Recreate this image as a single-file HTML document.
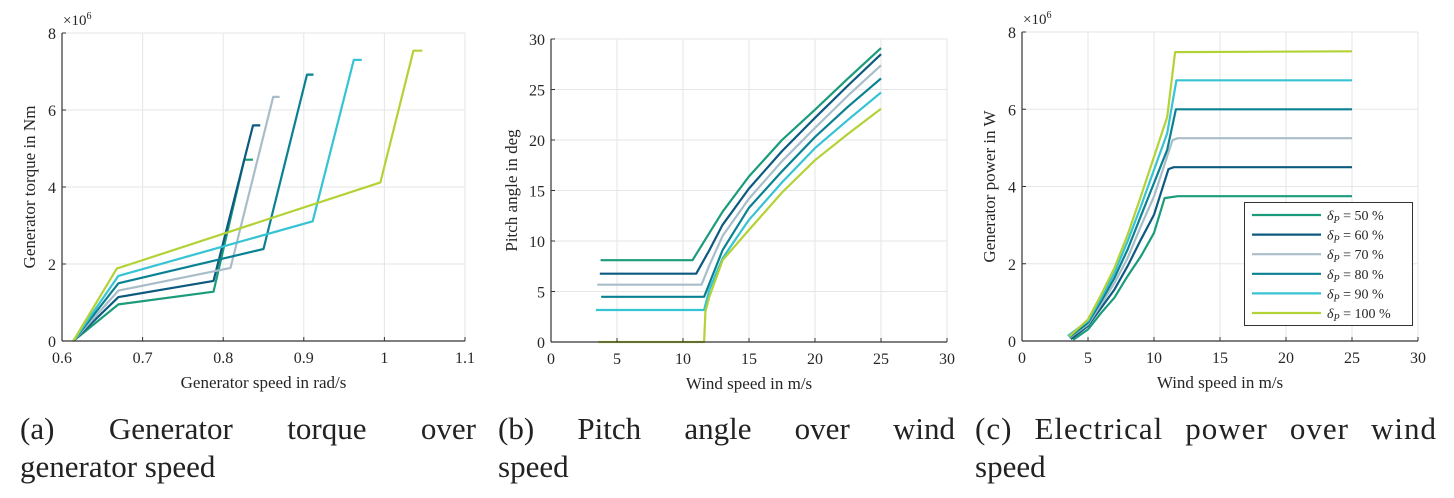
<!DOCTYPE html>
<html><head><meta charset="utf-8">
<style>
body{margin:0;background:#fff;width:1454px;height:498px;overflow:hidden;font-family:"Liberation Serif",serif;}
.cap{position:absolute;font-size:31px;color:#222;line-height:38px;}
.just{text-align:justify;text-align-last:justify;}
</style></head><body>
<svg id="fig" width="1454" height="498" style="position:absolute;left:0;top:0" font-family="Liberation Serif, serif"></svg>
<div class="cap" style="left:20px;top:410px;width:456px"><div class="just">(a) Generator torque over</div><div>generator speed</div></div>
<div class="cap" style="left:498px;top:410px;width:457px"><div class="just">(b) Pitch angle over wind</div><div>speed</div></div>
<div class="cap" style="left:975px;top:410px;width:462px"><div class="just" style="letter-spacing:1px">(c) Electrical power over wind</div><div>speed</div></div>
<script>
const seriesNames=["50","60","70","80","90","100"];
const seriesColors=["#1a9c7a","#0d5a80","#a9bdc9","#0a8192","#36c3d3","#b3d236"];
// (a) torque vs speed
const torqueSpeed=[
[0.614,0.670,0.788,0.826,0.837],
[0.614,0.670,0.788,0.837,0.846],
[0.614,0.670,0.809,0.862,0.870],
[0.614,0.670,0.850,0.904,0.912],
[0.614,0.670,0.911,0.962,0.972],
[0.614,0.668,0.995,1.036,1.047]];
const torqueVal=[
[0,0.95,1.28,4.71,4.71],
[0,1.14,1.56,5.60,5.60],
[0,1.31,1.90,6.34,6.34],
[0,1.50,2.39,6.92,6.92],
[0,1.69,3.11,7.30,7.30],
[0,1.88,4.12,7.54,7.54]];
// (b) pitch vs wind
const pitchWind=[
[3.76,10.72,12,13,15,17.5,20,22.5,25],
[3.7,11.0,12,13,15,17.5,20,22.5,25],
[3.5,11.4,12,13,15,17.5,20,22.5,25],
[3.8,11.6,12,13,15,17.5,20,22.5,25],
[3.4,11.6,12,13,15,17.5,20,22.5,25],
[3.6,11.6,11.7,12,13,15,17.5,20,22.5,25]];
const pitchVal=[
[8.1,8.1,10.8,12.9,16.4,20.0,23.0,26.1,29.1],
[6.76,6.76,9.1,11.6,15.2,18.9,22.2,25.4,28.5],
[5.67,5.67,7.6,10.5,14.2,17.9,21.2,24.4,27.4],
[4.48,4.48,5.8,9.1,13.3,16.9,20.3,23.3,26.1],
[3.17,3.17,5.2,8.3,12.1,15.8,19.2,22.0,24.7],
[0,0,3.0,4.5,8.1,11.1,14.8,18.0,20.6,23.1]];
// (c) power vs wind
const powerWind=[
[3.87,5,6,7,8,9,10,10.8,11.8,25],
[3.7,5,6,7,8,9,10,11.1,11.5,25],
[3.6,5,6,7,8,9,10,11.4,11.8,25],
[3.6,5,6,7,8,9,10,11,11.66,25],
[3.47,5,6,7,8,9,10,11,11.7,25],
[3.6,5,6,7,8,9,10,11,11.6,25]];
const powerVal=[
[0.03,0.3,0.73,1.12,1.68,2.19,2.8,3.7,3.75,3.75],
[0.05,0.39,0.86,1.33,1.94,2.62,3.27,4.45,4.5,4.5],
[0.08,0.43,0.95,1.5,2.15,2.97,3.74,5.2,5.25,5.25],
[0.1,0.47,1.03,1.63,2.37,3.23,4.09,4.95,6.0,6.0],
[0.13,0.52,1.12,1.76,2.58,3.48,4.43,5.38,6.75,6.75],
[0.12,0.56,1.2,1.89,2.75,3.74,4.77,5.8,7.48,7.5]];
const ticksA_x=["0.6","0.7","0.8","0.9","1","1.1"];
const ticksA_y=["0","2","4","6","8"];
const ticksB_x=["0","5","10","15","20","25","30"];
const ticksB_y=["0","5","10","15","20","25","30"];
const ticksC_x=["0","5","10","15","20","25","30"];
const ticksC_y=["0","2","4","6","8"];

const NS="http://www.w3.org/2000/svg";
const svg=document.getElementById('fig');
function mk(tag,attrs,parent){const e=document.createElementNS(NS,tag);for(const k in attrs)e.setAttribute(k,attrs[k]);(parent||svg).appendChild(e);return e;}

function plot(id,box,xr,yr,xt,yt,xs,ys,xlabel,ylabel,expo){
  const g=mk('g',{});
  
  
  const sx=v=>box.x0+(v-xr[0])/(xr[1]-xr[0])*(box.x1-box.x0);
  const sy=v=>box.y0-(v-yr[0])/(yr[1]-yr[0])*(box.y0-box.y1);
  const grid=mk('g',{},g);
  
  
  xt.forEach(t=>{const X=sx(+t);mk('line',{x1:X,x2:X,y1:box.y0,y2:box.y1,stroke:'#e6e6e6','stroke-width':1},grid);});
  yt.forEach(t=>{const Y=sy(+t);mk('line',{x1:box.x0,x2:box.x1,y1:Y,y2:Y,stroke:'#e6e6e6','stroke-width':1},grid);});
  xs.forEach((xa,i)=>{
    const pts=xa.map((v,j)=>sx(v).toFixed(1)+','+sy(ys[i][j]).toFixed(1)).join(' ');
    const l=mk('polyline',{points:pts,fill:'none',stroke:seriesColors[i],'stroke-width':2.2,'stroke-linejoin':'round'},g);
    
    
  });
  const ax=mk('g',{},g);
  
  
  mk('line',{x1:box.x0,x2:box.x1,y1:box.y0,y2:box.y0,stroke:'#333','stroke-width':1.2},ax);
  mk('line',{x1:box.x0,x2:box.x0,y1:box.y0,y2:box.y1,stroke:'#333','stroke-width':1.2},ax);
  xt.forEach(t=>{const X=sx(+t);mk('line',{x1:X,x2:X,y1:box.y0,y2:box.y0-4,stroke:'#333'},ax);
    const tx=mk('text',{x:X,y:box.y0+22,'text-anchor':'middle','font-size':16,fill:'#262626'},ax);tx.textContent=t;
    
    });
  yt.forEach(t=>{const Y=sy(+t);mk('line',{x1:box.x0,x2:box.x0+4,y1:Y,y2:Y,stroke:'#333'},ax);
    const tx=mk('text',{x:box.x0-6,y:Y+6,'text-anchor':'end','font-size':16,fill:'#262626'},ax);tx.textContent=t;
    
    });
  const xl=mk('text',{x:(box.x0+box.x1)/2,y:box.y0+47,'text-anchor':'middle','font-size':17,fill:'#262626'},g);xl.textContent=xlabel;
  
  
  const yc=(box.y0+box.y1)/2;const yx=box.x0-(yt[yt.length-1].length>1?34:27);
  const yl=mk('text',{x:yx,y:yc,'text-anchor':'middle','font-size':17,fill:'#262626',transform:`rotate(-90 ${yx} ${yc})`},g);yl.textContent=ylabel;
  
  
  if(expo){const e=mk('text',{x:box.x0+1,y:box.y1-8,'font-size':15,fill:'#262626'},g);
    e.innerHTML='×10<tspan dy="-6" font-size="10">6</tspan>';
    
    }
}
plot('torque-chart',{x0:62,x1:465,y0:341,y1:33},[0.6,1.1],[0,8],ticksA_x,ticksA_y,torqueSpeed,torqueVal,'Generator speed in rad/s','Generator torque in Nm',true);
plot('pitch-chart',{x0:551,x1:947,y0:342,y1:39},[0,30],[0,30],ticksB_x,ticksB_y,pitchWind,pitchVal,'Wind speed in m/s','Pitch angle in deg',false);
plot('power-chart',{x0:1022,x1:1418,y0:341,y1:32},[0,30],[0,8],ticksC_x,ticksC_y,powerWind,powerVal,'Wind speed in m/s','Generator power in W',true);
// legend
const lg=mk('g',{});


mk('rect',{x:1244.5,y:202.5,width:168,height:123,fill:'#fff',stroke:'#333','stroke-width':1},lg);
seriesNames.forEach((n,i)=>{
  const Y=215+i*19.6;
  const e=mk('g',{},lg);
  
  
  mk('line',{x1:1252,x2:1321,y1:Y,y2:Y,stroke:seriesColors[i],'stroke-width':2.2},e);
  const t=mk('text',{x:1327,y:Y+5,'font-size':14,fill:'#262626'},e);
  t.innerHTML='<tspan font-style="italic">δ</tspan><tspan font-size="10" font-style="italic" dy="3">P</tspan><tspan dy="-3"> = '+n+' %</tspan>';
});
</script>
</body></html>
